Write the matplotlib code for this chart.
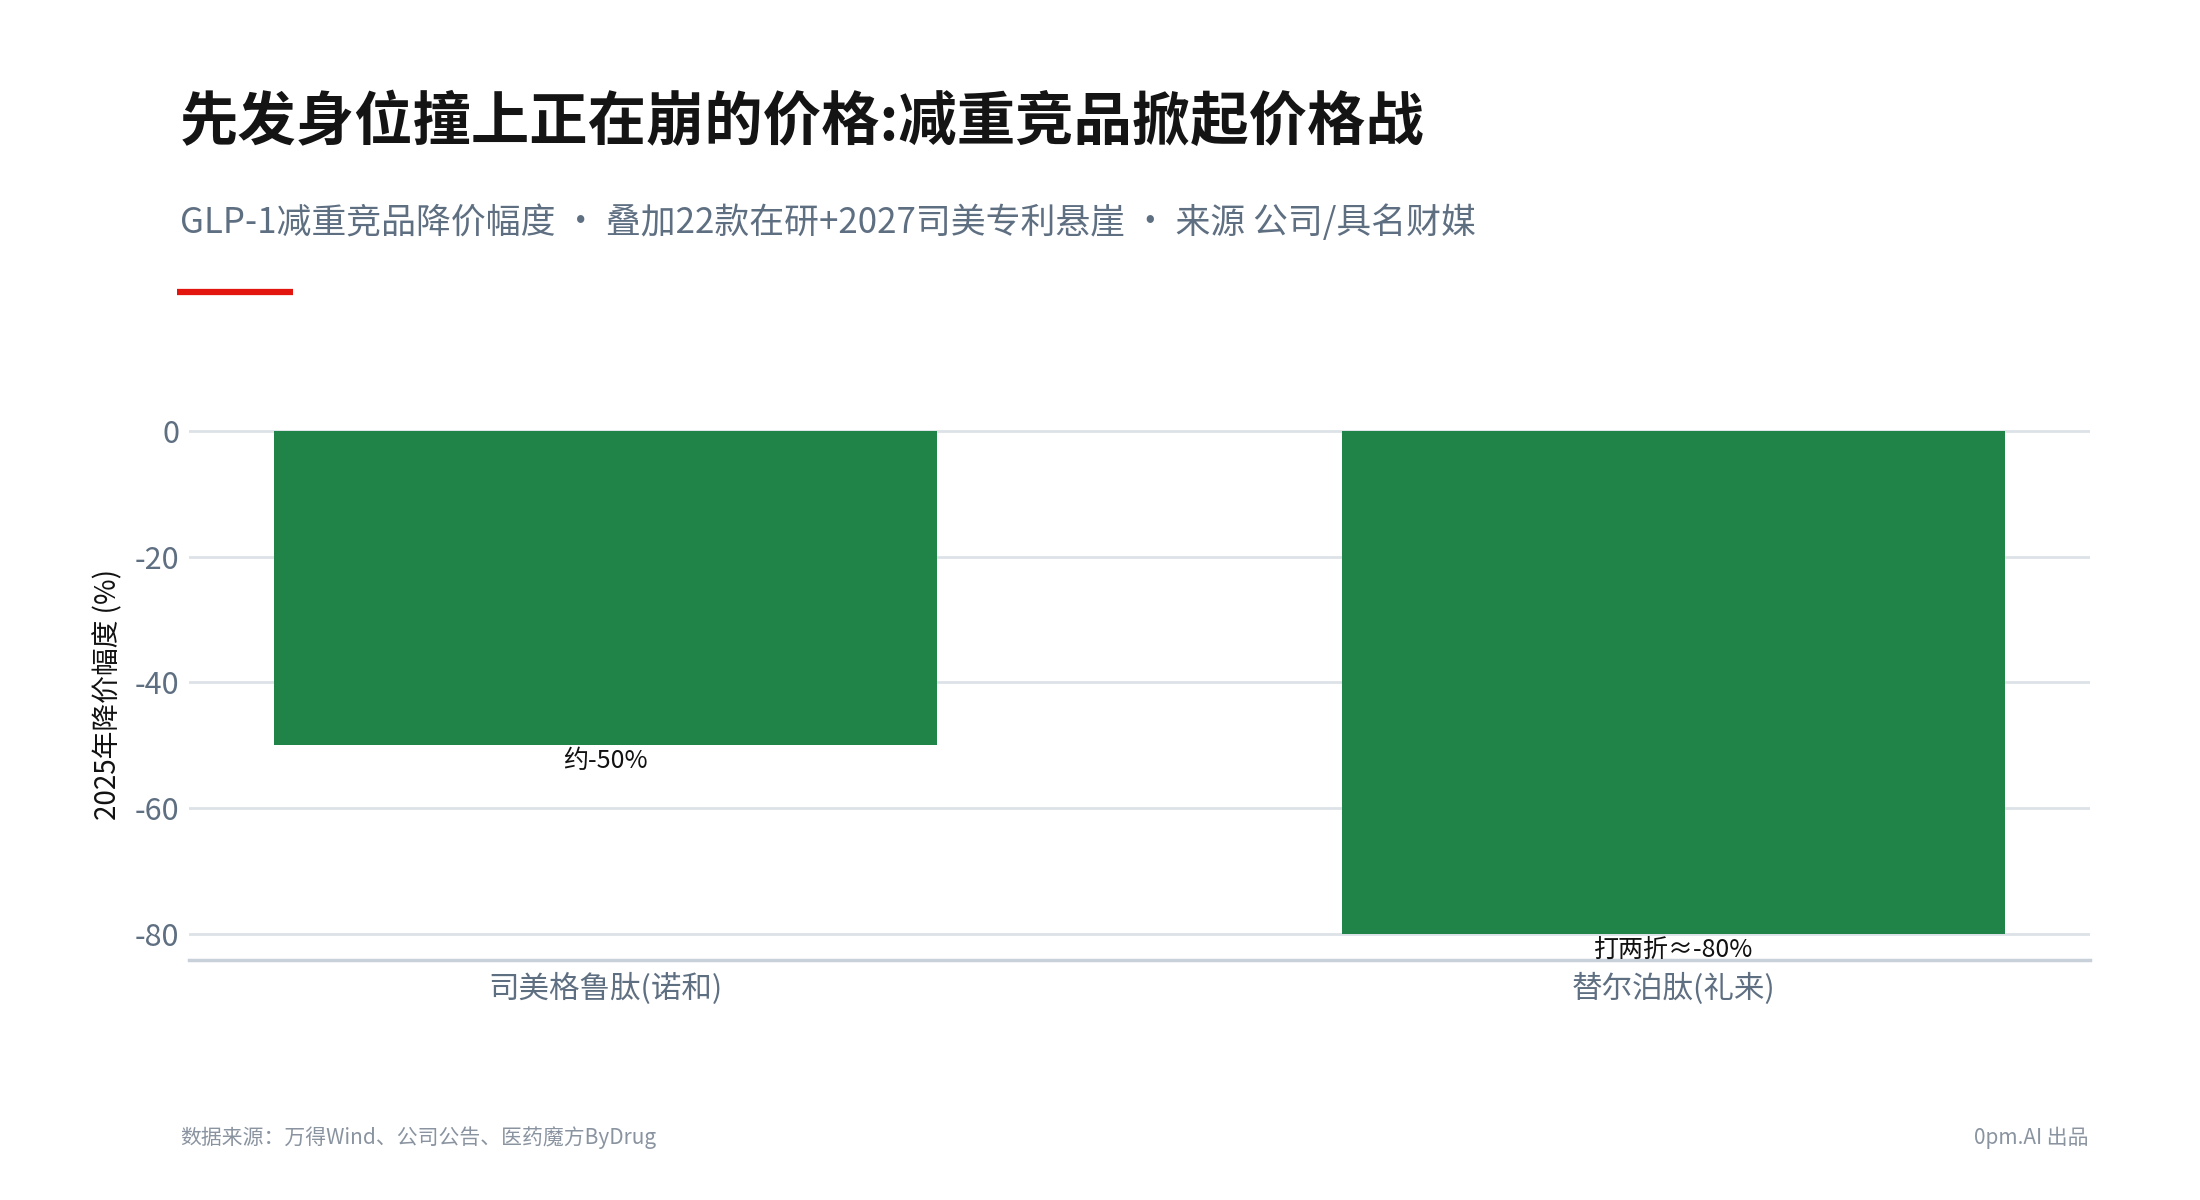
import matplotlib
matplotlib.use("Agg")
import matplotlib.pyplot as plt

plt.rcParams['font.family'] = ['Noto Sans CJK SC', 'DejaVu Sans']

# Data
categories = ["司美格鲁肽(诺和)", "替尔泊肽(礼来)"]
values = [-50, -80]
labels = ["约-50%", "打两折≈-80%"]
yticks = [0, -20, -40, -60, -80]

title = "先发身位撞上正在崩的价格:减重竞品掀起价格战"
subtitle = "GLP-1减重竞品降价幅度 • 叠加22款在研+2027司美专利悬崖 • 来源 公司/具名财媒"
ylabel = "2025年降价幅度 (%)"
footer_left = "数据来源：万得Wind、公司公告、医药魔方ByDrug"
footer_right = "0pm.AI 出品"

W, H = 2200, 1200
fig = plt.figure(figsize=(22, 12), dpi=100)
fig.patch.set_facecolor("white")

ax_left, ax_right, ax_top, ax_bottom = 189, 2090, 429, 960
ax = fig.add_axes([ax_left / W, 1 - ax_bottom / H, (ax_right - ax_left) / W, (ax_bottom - ax_top) / H])

x = list(range(len(categories)))
bars = ax.bar(x, values, width=0.62, color="#208449", zorder=3)
ax.set_xlim(-0.39, 1.39)
ax.set_ylim(-84.13, 0.3)

ax.set_yticks(yticks)
ax.set_yticklabels([str(v) for v in yticks])
ax.set_xticks(x)
ax.set_xticklabels(categories)
ax.tick_params(axis='y', length=0, pad=7, labelsize=22, labelcolor="#5f6f82")
ax.tick_params(axis='x', length=0, pad=9, labelsize=22, labelcolor="#5f6f82")
ax.grid(axis='y', color="#dde2e8", linewidth=2, zorder=0)
ax.grid(axis='x', visible=False)
for s in ["top", "right", "left"]:
    ax.spines[s].set_visible(False)
ax.spines["bottom"].set_color("#c8d0da")
ax.spines["bottom"].set_linewidth(2.5)

ax.set_ylabel(ylabel, fontsize=20, color="#111111", va="center")
ax.yaxis.set_label_coords(-0.0426, 0.5)

for xi, v, lab in zip(x, values, labels):
    ax.annotate(lab, xy=(xi, v), xytext=(0, -2), textcoords="offset points",
                ha="center", va="top", fontsize=18, color="#111111", zorder=4)

fig.text(180 / W, 1 - 123 / H, title, fontsize=42, fontweight="black", color="#141414",
         ha="left", va="center")
fig.text(180 / W, 1 - 223 / H, subtitle, fontsize=25.1, color="#5f6f82", ha="left", va="center")
fig.add_artist(plt.Line2D([177 / W, 293 / W], [1 - 292 / H, 1 - 292 / H], color="#e3160f",
                          linewidth=4.5, solid_capstyle="butt"))
fig.text(180 / W, 1 - 1138 / H, footer_left, fontsize=15, color="#8a94a0", ha="left", va="center")
fig.text(2089 / W, 1 - 1138 / H, footer_right, fontsize=15, color="#8a94a0", ha="right", va="center")

fig.savefig("out.png", dpi=100, facecolor="white")
